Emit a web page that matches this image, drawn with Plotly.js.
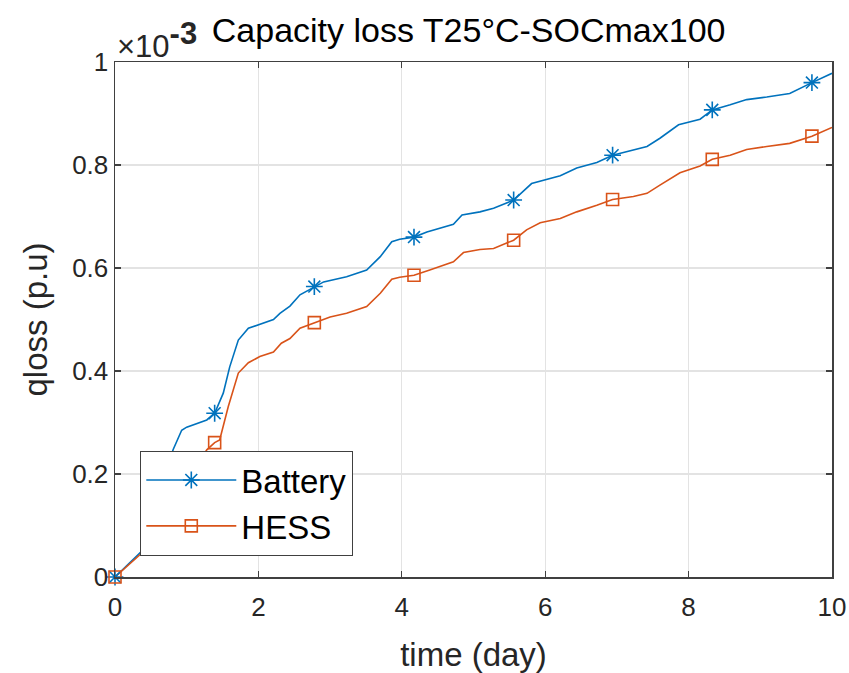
<!DOCTYPE html>
<html>
<head>
<meta charset="utf-8">
<script src="https://cdn.plot.ly/plotly-3.0.1.min.js"></script>
<style>
  html, body { margin: 0; padding: 0; background: #ffffff; }
  #chart { width: 849px; height: 673px; }
</style>
</head>
<body>
<div id="chart"></div>
<script>
// ---- data (qloss in units of 1e-3 p.u.) ----
const batteryDays = [0, 0.37, 0.81, 0.93, 1.00, 1.28, 1.39, 1.51, 1.60, 1.72, 1.86, 2.02, 2.21, 2.30, 2.44, 2.58, 2.78, 2.91, 3.23, 3.51, 3.70, 3.86, 3.97, 4.17, 4.35, 4.53, 4.72, 4.84, 5.09, 5.28, 5.56, 5.81, 6.02, 6.21, 6.44, 6.72, 6.94, 7.23, 7.42, 7.60, 7.86, 8.16, 8.33, 8.58, 8.81, 9.09, 9.41, 9.72, 10.0];
const batteryLoss = [0, 0.050, 0.247, 0.285, 0.291, 0.305, 0.318, 0.357, 0.408, 0.460, 0.483, 0.491, 0.500, 0.512, 0.526, 0.548, 0.564, 0.573, 0.583, 0.596, 0.622, 0.651, 0.656, 0.660, 0.670, 0.677, 0.685, 0.703, 0.709, 0.716, 0.732, 0.764, 0.772, 0.779, 0.794, 0.805, 0.819, 0.829, 0.836, 0.852, 0.878, 0.889, 0.907, 0.917, 0.927, 0.932, 0.939, 0.960, 0.978];

const hessDays = [0, 0.37, 1.28, 1.39, 1.46, 1.58, 1.72, 1.86, 2.02, 2.21, 2.32, 2.44, 2.58, 2.78, 3.00, 3.23, 3.51, 3.70, 3.86, 3.97, 4.17, 4.39, 4.72, 4.86, 5.09, 5.28, 5.56, 5.74, 5.93, 6.21, 6.44, 6.72, 6.94, 7.23, 7.42, 7.60, 7.88, 8.16, 8.33, 8.58, 8.81, 9.09, 9.41, 9.72, 10.0];
const hessLoss = [0, 0.046, 0.247, 0.261, 0.266, 0.331, 0.396, 0.416, 0.428, 0.437, 0.454, 0.463, 0.483, 0.494, 0.505, 0.512, 0.525, 0.551, 0.578, 0.582, 0.586, 0.596, 0.612, 0.630, 0.636, 0.638, 0.654, 0.674, 0.688, 0.696, 0.709, 0.722, 0.733, 0.739, 0.745, 0.761, 0.785, 0.798, 0.811, 0.819, 0.830, 0.836, 0.842, 0.856, 0.873];

const markerDays = [0, 1.39, 2.78, 4.17, 5.56, 6.94, 8.33, 9.72];

const seriesNames = ['Battery', 'HESS'];
const xTicks = [0, 2, 4, 6, 8, 10];
const yTicks = [0, 0.2, 0.4, 0.6, 0.8, 1];
const yTickLabels = ['0', '0.2', '0.4', '0.6', '0.8', '1'];

// ---- helpers ----
function pickMarkers(days, loss) {
  const mx = [], my = [];
  markerDays.forEach(d => {
    const i = days.indexOf(d);
    if (i >= 0) { mx.push(days[i]); my.push(loss[i]); }
  });
  return {mx, my};
}

const BLUE = '#0072BD';
const ORANGE = '#D95319';
const FONT = '"Liberation Sans", Arial, sans-serif';
const TXT = '#262626';

const bm = pickMarkers(batteryDays, batteryLoss);
const hm = pickMarkers(hessDays, hessLoss);

const traces = [
  {x: batteryDays, y: batteryLoss, mode: 'lines', line: {color: BLUE, width: 1.6}, showlegend: false, hoverinfo: 'skip'},
  {x: hessDays, y: hessLoss, mode: 'lines', line: {color: ORANGE, width: 1.6}, showlegend: false, hoverinfo: 'skip'},
  {x: bm.mx, y: bm.my, mode: 'markers', cliponaxis: false, marker: {symbol: 'asterisk-open', size: 14, color: BLUE, line: {color: BLUE, width: 1.6}}, showlegend: false},
  {x: hm.mx, y: hm.my, mode: 'markers', cliponaxis: false, marker: {symbol: 'square-open', size: 12, color: ORANGE, line: {color: ORANGE, width: 1.6}}, showlegend: false},
  // legend entries
  {x: [null], y: [null], name: seriesNames[0], mode: 'lines+markers', line: {color: BLUE, width: 1.6}, marker: {symbol: 'asterisk-open', size: 14, color: BLUE, line: {color: BLUE, width: 1.6}}},
  {x: [null], y: [null], name: seriesNames[1], mode: 'lines+markers', line: {color: ORANGE, width: 1.6}, marker: {symbol: 'square-open', size: 12, color: ORANGE, line: {color: ORANGE, width: 1.6}}}
];

const axisCommon = {
  showline: true, linecolor: '#404040', linewidth: 1.5, mirror: 'ticks',
  ticks: 'inside', ticklen: 6, tickwidth: 1.2, tickcolor: '#404040',
  showgrid: true, gridcolor: '#e3e3e3', gridwidth: 1.2,
  zeroline: false,
  tickfont: {family: FONT, size: 26, color: TXT}
};

const layout = {
  width: 849, height: 673,
  margin: {l: 115, r: 17, t: 62, b: 96},
  paper_bgcolor: '#ffffff', plot_bgcolor: '#ffffff',
  font: {family: FONT, color: TXT},
  title: {
    text: 'Capacity loss T25°C-SOCmax100',
    font: {family: FONT, size: 34, color: '#000000'},
    x: 0.552, xanchor: 'center', y: 0.956, yanchor: 'middle'
  },
  xaxis: Object.assign({}, axisCommon, {
    range: [0, 10], tickvals: xTicks, ticktext: xTicks.map(String),
    ticklabelstandoff: 6,
    title: {text: 'time (day)', font: {family: FONT, size: 33, color: TXT}, standoff: 22}
  }),
  yaxis: Object.assign({}, axisCommon, {
    range: [0, 1], tickvals: yTicks, ticktext: yTickLabels,
    title: {text: 'qloss (p.u)', font: {family: FONT, size: 33, color: TXT}, standoff: 14}
  }),
  legend: {
    x: 0.035, xanchor: 'left', y: 0.245, yanchor: 'top',
    bgcolor: '#ffffff', bordercolor: '#404040', borderwidth: 1.2,
    font: {family: FONT, size: 33, color: '#000000'},
    itemwidth: 90
  },
  annotations: [{
    xref: 'paper', yref: 'paper', x: 0.0, y: 0.992, xanchor: 'left', yanchor: 'bottom',
    text: '×10<sup><span style="font-size:31px;font-weight:bold">-3</span></sup>', showarrow: false,
    font: {family: FONT, size: 31, color: TXT}
  }],
  showlegend: true
};

Plotly.newPlot('chart', traces, layout, {displayModeBar: false, staticPlot: true});
</script>
</body>
</html>
